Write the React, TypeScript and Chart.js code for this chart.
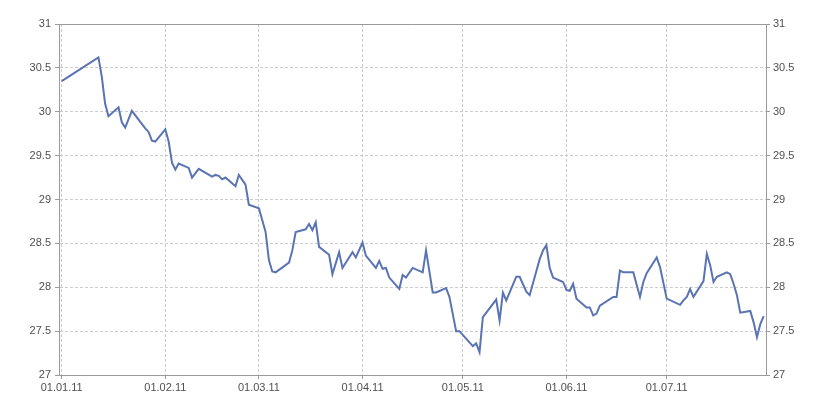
import React, { useEffect, useRef } from "react";
import { Chart, registerables } from "chart.js";

Chart.register(...registerables);

// Day offsets from 01.01.2011
const days = [0, 11, 12, 13, 14, 17, 18, 19, 21, 25, 26, 27, 28, 31, 32, 33, 34, 35, 38, 39, 41, 45, 46, 47, 48, 49, 52, 53, 55, 56, 59, 61, 62, 63, 64, 68, 69, 70, 73, 74, 75, 76, 77, 80, 81, 83, 84, 87, 88, 90, 91, 94, 95, 96, 97, 98, 101, 102, 103, 105, 108, 109, 111, 112, 115, 116, 118, 119, 123, 124, 125, 126, 130, 131, 132, 133, 136, 137, 139, 140, 143, 144, 145, 146, 147, 150, 151, 152, 153, 154, 157, 158, 159, 160, 161, 165, 166, 167, 168, 171, 173, 174, 175, 178, 179, 181, 185, 186, 187, 188, 189, 192, 193, 194, 195, 196, 199, 200, 201, 202, 203, 206, 207, 208, 209, 210];

const values = [30.35, 30.62, 30.40, 30.09, 29.95, 30.05, 29.88, 29.82, 30.01, 29.81, 29.77, 29.67, 29.66, 29.80, 29.66, 29.42, 29.34, 29.41, 29.36, 29.25, 29.35, 29.26, 29.28, 29.27, 29.23, 29.25, 29.15, 29.28, 29.17, 28.94, 28.90, 28.63, 28.31, 28.18, 28.17, 28.28, 28.42, 28.63, 28.66, 28.72, 28.65, 28.74, 28.46, 28.37, 28.15, 28.40, 28.22, 28.40, 28.34, 28.51, 28.36, 28.22, 28.30, 28.21, 28.22, 28.11, 27.98, 28.14, 28.11, 28.22, 28.17, 28.42, 27.94, 27.94, 27.99, 27.89, 27.50, 27.50, 27.33, 27.36, 27.26, 27.66, 27.86, 27.62, 27.94, 27.85, 28.12, 28.12, 27.95, 27.91, 28.32, 28.42, 28.48, 28.22, 28.11, 28.06, 27.97, 27.96, 28.04, 27.87, 27.77, 27.77, 27.68, 27.70, 27.79, 27.89, 27.89, 28.19, 28.17, 28.17, 27.89, 28.06, 28.16, 28.34, 28.23, 27.87, 27.80, 27.85, 27.89, 27.98, 27.89, 28.07, 28.38, 28.25, 28.06, 28.12, 28.17, 28.15, 28.04, 27.91, 27.71, 27.73, 27.60, 27.43, 27.58, 27.67];

// Month tick positions (day offsets) and labels
const monthDays = [0, 31, 59, 90, 120, 151, 181];
const monthLabels = ["01.01.11", "01.02.11", "01.03.11", "01.04.11", "01.05.11", "01.06.11", "01.07.11"];

const FONT = { family: "'Liberation Sans', Arial, sans-serif", size: 11 };
const AXIS = "#9a9a9a";
const GRID = "#cccccc";
const TEXT = "#505050";

const yLabel = (v: any) => String(Math.round(Number(v) * 10) / 10);

export default function App() {
  const ref = useRef<HTMLCanvasElement>(null);

  useEffect(() => {
    document.body.style.margin = "0";
    const canvas = ref.current!;
    const topLine = {
      id: "topLine",
      afterDraw(chart: any) {
        const { ctx, chartArea } = chart;
        ctx.save();
        ctx.strokeStyle = AXIS;
        ctx.lineWidth = 1;
        ctx.beginPath();
        ctx.moveTo(chartArea.left, chartArea.top + 0.5);
        ctx.lineTo(chartArea.right, chartArea.top + 0.5);
        ctx.stroke();
        ctx.restore();
      },
    };
    const chart = new Chart(canvas, {
      type: "line",
      data: {
        datasets: [
          {
            data: days.map((d, i) => ({ x: d, y: values[i] })),
            borderColor: "#5a73b2",
            borderWidth: 2,
            pointRadius: 0,
            tension: 0,
            fill: false,
          },
        ],
      },
      options: {
        animation: false,
        responsive: false,
        devicePixelRatio: 1,
        layout: { padding: { top: 24, left: 0, right: 0, bottom: 0 } },
        plugins: { legend: { display: false }, tooltip: { enabled: false } },
        scales: {
          x: {
            type: "linear",
            position: "bottom",
            min: -0.8,
            max: 210.7,
            afterBuildTicks: (axis: any) => {
              axis.ticks = monthDays.map((v) => ({ value: v }));
            },
            afterFit: (s: any) => {
              s.height = 25;
            },
            ticks: {
              autoSkip: false,
              maxRotation: 0,
              padding: 2,
              color: TEXT,
              font: FONT,
              callback: (v: any) => {
                const i = monthDays.indexOf(Number(v));
                return i >= 0 ? monthLabels[i] : "";
              },
            },
            grid: { color: GRID, tickColor: AXIS, tickLength: 4, lineWidth: 1 },
            border: { color: AXIS, dash: [3, 2] },
          },
          y: {
            position: "left",
            min: 27,
            max: 31,
            afterFit: (s: any) => {
              s.width = 59;
            },
            ticks: { stepSize: 0.5, padding: 4, color: TEXT, font: FONT, callback: yLabel },
            grid: { color: GRID, tickColor: AXIS, tickLength: 4 },
            border: { color: AXIS, dash: [3, 2] },
          },
          y2: {
            position: "right",
            min: 27,
            max: 31,
            afterFit: (s: any) => {
              s.width = 59;
            },
            ticks: { stepSize: 0.5, padding: 3, color: TEXT, font: FONT, callback: yLabel },
            grid: { drawOnChartArea: false, tickColor: AXIS, tickLength: 4 },
            border: { color: AXIS },
          },
        },
      },
      plugins: [topLine],
    } as any);
    return () => chart.destroy();
  }, []);

  return (
    <div style={{ width: 825, height: 400, background: "#fff" }}>
      <canvas ref={ref} width={825} height={400} />
    </div>
  );
}
